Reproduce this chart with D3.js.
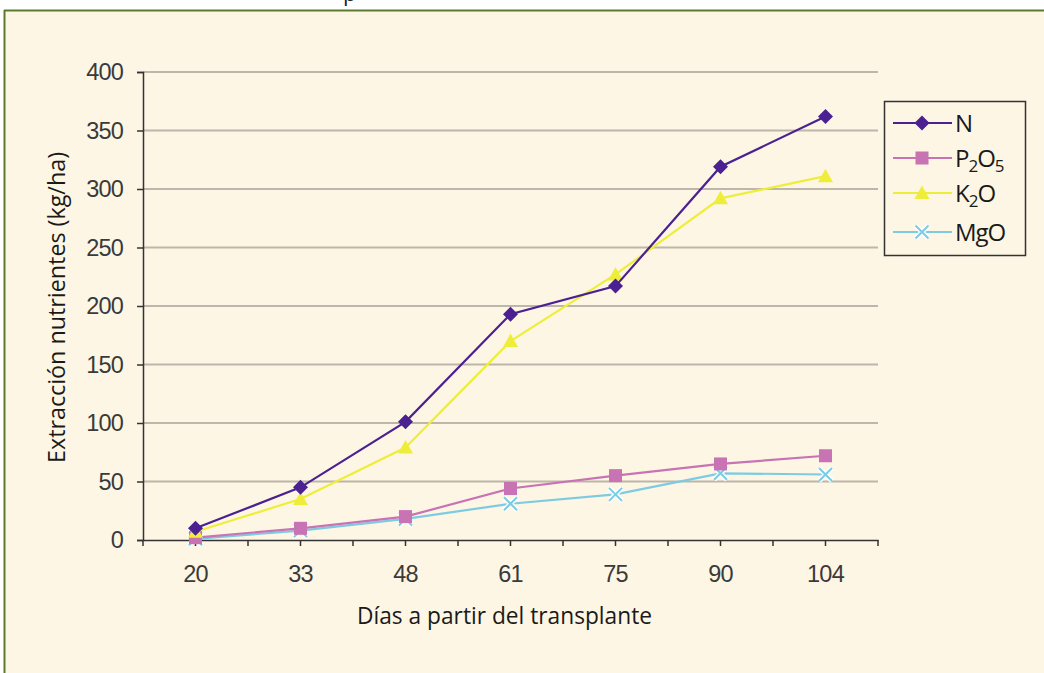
<!DOCTYPE html>
<html><head><meta charset="utf-8">
<script src="https://cdn.jsdelivr.net/npm/d3@7"></script>
<style>body{margin:0;background:#fff;}svg{display:block;}</style>
</head><body>
<svg id="c" width="1044" height="673"></svg>
<script>
const categories = ["20","33","48","61","75","90","104"];
const nValues   = [10, 45, 101, 193, 217, 319, 362];
const p2o5Values= [2, 10, 20, 44, 55, 65, 72];
const k2oValues = [7, 35, 79, 170, 227, 292, 311];
const mgoValues = [1, 8, 18, 31, 39, 57, 56];
const yTicks = [0,50,100,150,200,250,300,350,400];

const series = [
  {key:"N", values:nValues, color:"#4b2191", marker:"diamond"},
  {key:"P2O5", values:p2o5Values, color:"#c873b4", marker:"square"},
  {key:"K2O", values:k2oValues, color:"#eeee3a", marker:"triangle"},
  {key:"MgO", values:mgoValues, color:"#7ccbe3", marker:"cross"}
];

const svg = d3.select("#c");
svg.append("rect").attr("x",4).attr("y",10).attr("width",1040).attr("height",663).attr("fill","#fdf6e4");
svg.append("line").attr("x1",4).attr("x2",1044).attr("y1",10.5).attr("y2",10.5).attr("stroke","#5a7a2e").attr("stroke-width",2);
svg.append("line").attr("x1",4.5).attr("x2",4.5).attr("y1",10).attr("y2",673).attr("stroke","#5a7a2e").attr("stroke-width",2);

const x = d3.scaleBand().domain(categories).range([143,878]);
const y = d3.scaleLinear().domain([0,400]).range([540,72]);

svg.append("g").selectAll("line").data(yTicks.filter(d=>d>0)).join("line")
  .attr("x1",143).attr("x2",878).attr("y1",d=>y(d)).attr("y2",d=>y(d))
  .attr("stroke","#bdb6aa").attr("stroke-width",2);

const tickFont = "'Liberation Sans',Arial,sans-serif";
const ya = svg.append("g").attr("transform","translate(143,0)")
  .call(d3.axisLeft(y).tickValues(yTicks).tickSize(6).tickPadding(14));
ya.select(".domain").attr("stroke","#333").attr("stroke-width",1.5);
ya.selectAll(".tick line").attr("stroke","#333").attr("stroke-width",1.5);
ya.selectAll("text").attr("font-family",tickFont).attr("font-size",23.5).attr("letter-spacing",-0.8).attr("fill","#3a3a3a");

const xa = svg.append("g").attr("transform","translate(0,540)")
  .call(d3.axisBottom(x).tickSize(0).tickPadding(25));
xa.select(".domain").attr("stroke","#333").attr("stroke-width",1.5);
xa.selectAll("text").attr("font-family",tickFont).attr("font-size",23.5).attr("letter-spacing",-0.8).attr("fill","#3a3a3a");
const tickPos = [];
categories.forEach(c=>{tickPos.push(x(c)); tickPos.push(x(c)+x.bandwidth()/2);});
tickPos.push(878);
xa.append("g").selectAll("line").data(tickPos).join("line")
  .attr("x1",d=>d).attr("x2",d=>d).attr("y1",0).attr("y2",6).attr("stroke","#333").attr("stroke-width",1.5);

const titleFont = "'Open Sans','Noto Sans',sans-serif";
svg.append("text").attr("x",357).attr("y",624)
  .attr("font-family",titleFont).attr("font-size",24.5).attr("fill","#1a1a1a")
  .attr("textLength",295).attr("lengthAdjust","spacingAndGlyphs")
  .text("Días a partir del transplante");
svg.append("text").attr("transform","translate(65,463) rotate(-90)")
  .attr("font-family",titleFont).attr("font-size",24).attr("fill","#1a1a1a")
  .attr("textLength",311).attr("lengthAdjust","spacingAndGlyphs")
  .text("Extracción nutrientes (kg/ha)");

svg.append("text").attr("x",343).attr("y",1).attr("font-family",titleFont).attr("font-size",22).attr("fill","#222").text("p");

const cx = c => x(c) + x.bandwidth()/2;

function drawMarker(g, type, color, px, py){
  if(type==="diamond"){
    const r = 7.5;
    g.append("path").attr("d",`M0,${-r}L${r},0L0,${r}L${-r},0Z`).attr("transform",`translate(${px},${py})`).attr("fill",color);
  } else if(type==="square"){
    g.append("rect").attr("x",px-6.5).attr("y",py-6.5).attr("width",13).attr("height",13).attr("fill",color);
  } else if(type==="triangle"){
    g.append("path").attr("d","M0,-7.5L7.5,6L-7.5,6Z").attr("transform",`translate(${px},${py})`).attr("fill",color);
  } else {
    const r = 6.5;
    const d = `M${-r},${-r}L${r},${r}M${-r},${r}L${r},${-r}`;
    g.append("path").attr("d",d).attr("transform",`translate(${px},${py})`).attr("fill","none").attr("stroke","#ffffff").attr("stroke-width",5).attr("stroke-opacity",0.9);
    g.append("path").attr("d",d).attr("transform",`translate(${px},${py})`).attr("fill","none").attr("stroke",color).attr("stroke-width",2);
  }
}

const line = d3.line().x((d,i)=>cx(categories[i])).y(d=>y(d));
const order = [3,1,2,0];
order.forEach(i=>{
  const s = series[i];
  const g = svg.append("g");
  g.append("path").datum(s.values).attr("d",line).attr("fill","none").attr("stroke",s.color).attr("stroke-width",2.2);
  s.values.forEach((v,j)=>drawMarker(g, s.marker, s.color, cx(categories[j]), y(v)));
});

const lg = svg.append("g");
lg.append("rect").attr("x",884.5).attr("y",101.5).attr("width",141).attr("height",154)
  .attr("fill","#fdf6e4").attr("stroke","#333").attr("stroke-width",1.5);
const legendY = [123,158,193,232];
const labels = [["N"],["P","2","O","5"],["K","2","O"],["MgO"]];
series.forEach((s,i)=>{
  const ly = legendY[i];
  lg.append("line").attr("x1",893).attr("x2",952).attr("y1",ly).attr("y2",ly).attr("stroke",s.color).attr("stroke-width",2.2);
  drawMarker(lg, s.marker, s.color, 922, ly);
  const t = lg.append("text").attr("x",955).attr("y",ly+8.5).attr("font-family",titleFont).attr("font-size",24).attr("letter-spacing",-1).attr("fill","#1a1a1a");
  labels[i].forEach((part,k)=>{
    const isSub = labels[i].length>1 && k%2===1;
    t.append("tspan").attr("font-size",isSub?17:24).attr("dy",isSub?5:(k>0?-5:0)).text(part);
  });
});
</script>
</body></html>
